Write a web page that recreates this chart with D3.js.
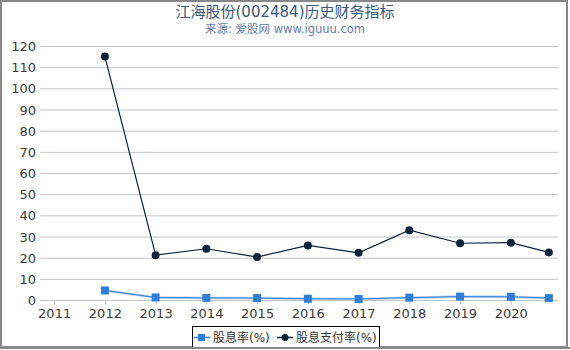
<!DOCTYPE html>
<html>
<head>
<meta charset="utf-8">
<script src="https://cdn.jsdelivr.net/npm/d3@7"></script>
<style>
  body { margin: 0; background: #fff; }
  text { font-family: "DejaVu Sans", "Noto Sans CJK SC", sans-serif; }
</style>
</head>
<body>
<div class="svg-container"></div>
<script>
  let years = [2012, 2013, 2014, 2015, 2016, 2017, 2018, 2019, 2020, 2020.75];
  let yieldRate = [4.5, 1.2, 1.0, 0.9, 0.6, 0.5, 1.1, 1.6, 1.5, 0.9];
  let payoutRate = [115, 21.2, 24.2, 20.3, 25.8, 22.3, 33.0, 26.8, 27.1, 22.5];
  let xTicks = [2011, 2012, 2013, 2014, 2015, 2016, 2017, 2018, 2019, 2020];
  let yTicks = [0, 10, 20, 30, 40, 50, 60, 70, 80, 90, 100, 110, 120];
  let seriesNames = ["股息率(%)", "股息支付率(%)"];

  let width = 570,
  height = 350;

  let svg = d3.select(".svg-container").append("svg")
    .attr("width", width)
    .attr("height", height);

  // outer frame
  svg.append("rect")
    .attr("x", 1).attr("y", 1)
    .attr("width", 566).attr("height", 346)
    .attr("fill", "none")
    .attr("stroke", "#888")
    .attr("stroke-width", 2);

  // titles
  svg.append("text")
    .text("江海股份(002484)历史财务指标")
    .attr("x", 285).attr("y", 17)
    .attr("text-anchor", "middle")
    .style("font-size", "15px")
    .style("fill", "#3a5878");

  svg.append("text")
    .text("来源: 爱股网 www.iguuu.com")
    .attr("x", 285).attr("y", 33)
    .attr("text-anchor", "middle")
    .style("font-size", "11.5px")
    .style("fill", "#5f7fa6");

  const xScale = d3.scaleLinear()
    .domain([2010.8, 2020.93])
    .range([44, 558]);

  const yScale = d3.scaleLinear()
    .domain([0, 120])
    .range([300, 46]);

  // horizontal grid
  svg.append("g")
    .selectAll("line")
    .data(yTicks)
    .enter()
    .append("line")
    .attr("x1", 40)
    .attr("x2", 558)
    .attr("y1", d => yScale(d) + 0.5)
    .attr("y2", d => yScale(d) + 0.5)
    .attr("stroke", "#c4c4c4")
    .attr("stroke-width", 1);

  // y labels
  svg.append("g")
    .selectAll("text")
    .data(yTicks)
    .enter()
    .append("text")
    .text(d => d)
    .attr("x", 36)
    .attr("y", d => yScale(d) + 5)
    .attr("text-anchor", "end")
    .style("font-size", "13px")
    .style("fill", "#3a3a3a");

  // x axis
  const xAxis = d3.axisBottom(xScale)
    .tickValues(xTicks)
    .tickFormat(d3.format("d"))
    .tickSize(4)
    .tickPadding(4);

  let xg = svg.append("g")
    .attr("transform", "translate(0,300.5)")
    .call(xAxis);
  xg.select(".domain").remove();
  xg.selectAll("line").attr("stroke", "#c0c0c0");
  xg.selectAll("text")
    .style("font-size", "13px")
    .style("fill", "#3a3a3a")
    .style("font-family", "DejaVu Sans, sans-serif");

  const line = d3.line()
    .x(d => xScale(d[0]))
    .y(d => yScale(d[1]));

  let yieldData = years.map((y, i) => [y, yieldRate[i]]);
  let payoutData = years.map((y, i) => [y, payoutRate[i]]);

  // series 1: dividend yield
  svg.append("path")
    .datum(yieldData)
    .attr("d", line)
    .attr("fill", "none")
    .attr("stroke", "#b5d2f3")
    .attr("stroke-width", 2.5);
  svg.append("path")
    .datum(yieldData)
    .attr("d", line)
    .attr("fill", "none")
    .attr("stroke", "#2f7ed8")
    .attr("stroke-width", 1);
  svg.selectAll(".sq")
    .data(yieldData)
    .enter()
    .append("rect")
    .attr("class", "sq")
    .attr("x", d => xScale(d[0]) - 4)
    .attr("y", d => yScale(d[1]) - 4)
    .attr("width", 8)
    .attr("height", 8)
    .attr("fill", "#2f7ed8");

  // series 2: payout ratio
  svg.append("path")
    .datum(payoutData)
    .attr("d", line)
    .attr("fill", "none")
    .attr("stroke", "#0d233a")
    .attr("stroke-width", 1.2);
  svg.selectAll(".dot")
    .data(payoutData)
    .enter()
    .append("circle")
    .attr("class", "dot")
    .attr("cx", d => xScale(d[0]))
    .attr("cy", d => yScale(d[1]))
    .attr("r", 4)
    .attr("fill", "#0d233a");

  // legend
  let legend = svg.append("g");
  legend.append("rect")
    .attr("x", 192.5).attr("y", 326.5)
    .attr("width", 187).attr("height", 24)
    .attr("fill", "#fff")
    .attr("stroke", "#000")
    .attr("stroke-width", 1);

  legend.append("line")
    .attr("x1", 194).attr("x2", 210).attr("y1", 337.5).attr("y2", 337.5)
    .attr("stroke", "#2f7ed8").attr("stroke-width", 1.5);
  legend.append("rect")
    .attr("x", 198).attr("y", 334).attr("width", 7).attr("height", 7)
    .attr("fill", "#2f7ed8");
  legend.append("text")
    .text(seriesNames[0])
    .attr("x", 213).attr("y", 342)
    .style("font-size", "12px").style("fill", "#333");

  legend.append("line")
    .attr("x1", 277).attr("x2", 293).attr("y1", 337.5).attr("y2", 337.5)
    .attr("stroke", "#0d233a").attr("stroke-width", 1.5);
  legend.append("circle")
    .attr("cx", 285).attr("cy", 337.5).attr("r", 3.5)
    .attr("fill", "#0d233a");
  legend.append("text")
    .text(seriesNames[1])
    .attr("x", 296).attr("y", 342)
    .style("font-size", "12px").style("fill", "#333");

  // bottom edge of the frame drawn over the legend box, as in the reference
  svg.append("line")
    .attr("x1", 0).attr("x2", 570).attr("y1", 348).attr("y2", 348)
    .attr("stroke", "#888").attr("stroke-width", 2);
  svg.append("rect")
    .attr("x", 0).attr("y", 349).attr("width", 570).attr("height", 2)
    .attr("fill", "#fff");
</script>
</body>
</html>
